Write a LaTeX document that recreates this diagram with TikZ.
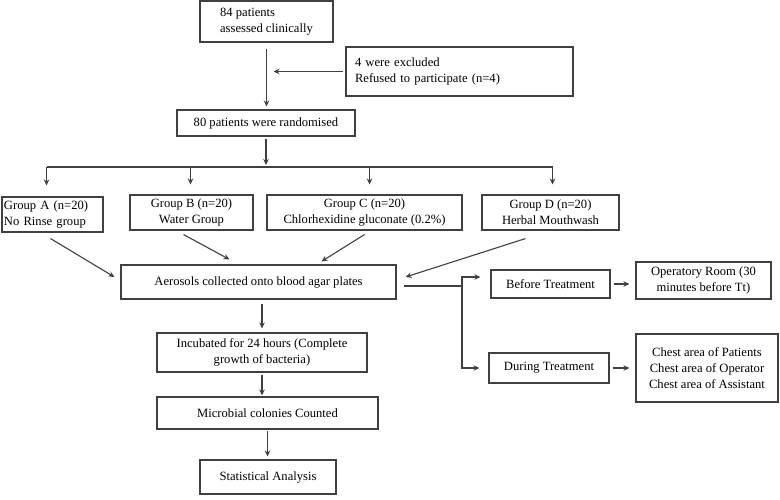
\documentclass[tikz,border=0pt]{standalone}
\usepackage{fontspec}
\setmainfont{Liberation Serif}
\usetikzlibrary{calc,arrows.meta}
\begin{document}
\begin{tikzpicture}[x=1pt,y=-1pt,font=\fontsize{12.6}{16}\selectfont,
  box/.style={draw=black!75,line width=1.1pt,inner sep=0pt,align=center,text=black},
  arr/.style={->,>={Stealth[length=6pt,width=5.5pt]},line width=1.1pt,draw=black!75}]
\useasboundingbox (0,0) rectangle (780,499);
\node[box,align=left,minimum width=133,minimum height=41] (top) at (266.5,21.5) {84 patients\\assessed clinically};
\node[box,align=left,text width=209,minimum width=227,minimum height=49] (excl) at (459.5,71.5) {4 were excluded\\Refused to participate (n=4)};
\node[box,minimum width=178,minimum height=26] (rand) at (266,123) {80 patients were randomised};
\node[box,align=left,text width=97,minimum width=101,minimum height=35] (ga) at (52.5,214.5) {Group A (n=20)\\No Rinse group};
\node[box,minimum width=123,minimum height=35] (gb) at (191.5,212.5) {Group B (n=20)\\Water Group};
\node[box,minimum width=195,minimum height=35] (gc) at (364.5,212.5) {Group C (n=20)\\Chlorhexidine gluconate (0.2\%)};
\node[box,minimum width=137,minimum height=35] (gd) at (550.5,212.5) {Group D (n=20)\\Herbal Mouthwash};
\node[box,minimum width=275,minimum height=34] (aero) at (258.5,282) {Aerosols collected onto blood agar plates};
\node[box,minimum width=119,minimum height=28] (before) at (550.5,284) {Before Treatment};
\node[box,minimum width=135,minimum height=37] (oper) at (703.5,280.5) {Operatory Room (30\\minutes before Tt)};
\node[box,minimum width=120,minimum height=30] (during) at (549,368) {During Treatment};
\node[box,minimum width=142,minimum height=68] (chest) at (707,368) {Chest area of Patients\\Chest area of Operator\\Chest area of Assistant};
\node[box,minimum width=210,minimum height=39] (incub) at (262,352.5) {Incubated for 24 hours (Complete\\growth of bacteria)};
\node[box,minimum width=221,minimum height=32] (micro) at (267.5,413) {Microbial colonies Counted};
\node[box,minimum width=136,minimum height=34] (stat) at (268,477) {Statistical Analysis};
\coordinate (bus) at (266,167);
\coordinate (fork) at (462,286);
\draw[arr] ([yshift=-6pt]top.south) -- ([yshift=3pt]top.south |- rand.north);
\draw[arr] ([xshift=-2pt]excl.west) -- ([xshift=7pt]top.south |- excl.west);
\draw[arr] ([yshift=-2pt]rand.south) -- ([yshift=2pt]bus);
\draw[line width=1.1pt,draw=black!75] ([xshift=-6pt]ga.north |- bus) -- ([xshift=2pt]gd.north |- bus);
\draw[arr] ([xshift=-6pt]ga.north |- bus) -- ([xshift=-6pt,yshift=11pt]ga.north);
\draw[arr] ([xshift=-1pt]gb.north |- bus) -- ([xshift=-1pt,yshift=10pt]gb.north);
\draw[arr] ([xshift=5pt]gc.north |- bus) -- ([xshift=5pt,yshift=10pt]gc.north);
\draw[arr] ([xshift=2pt]gd.north |- bus) -- ([xshift=2pt,yshift=10pt]gd.north);
\draw[arr] ($(ga.south)+(-2,6)$) -- ($(aero.west)+(-6,-5)$);
\draw[arr] ($(gb.south)+(-8,4)$) -- ($(aero.north)+(-29,-5)$);
\draw[arr] ($(gc.south)+(0,4)$) -- ($(aero.north)+(63,-3)$);
\draw[arr] ($(gd.south)+(-25,8)$) -- ($(aero.east)+(9,-5)$);
\draw[line width=1.1pt,draw=black!75] ($(aero.east)+(7,4)$) -- (fork);
\draw[arr] (fork) |- ($(before.west)+(-10,-7)$);
\draw[arr] (fork) |- ([xshift=-9pt]during.west);
\draw[arr] ([xshift=3pt]before.east) -- ([xshift=-6pt]oper.west |- before.east);
\draw[arr] ([xshift=3pt]during.east) -- ([xshift=-6pt]chest.west |- during.east);
\draw[arr] ([yshift=-4pt]incub.north |- aero.south) -- ([yshift=4pt]incub.north);
\draw[arr] ([yshift=-2pt]incub.south) -- ([yshift=1pt]incub.south |- micro.north);
\draw[arr] ([yshift=-1pt]micro.south) -- ([yshift=3pt]micro.south |- stat.north);
\end{tikzpicture}
\end{document}
